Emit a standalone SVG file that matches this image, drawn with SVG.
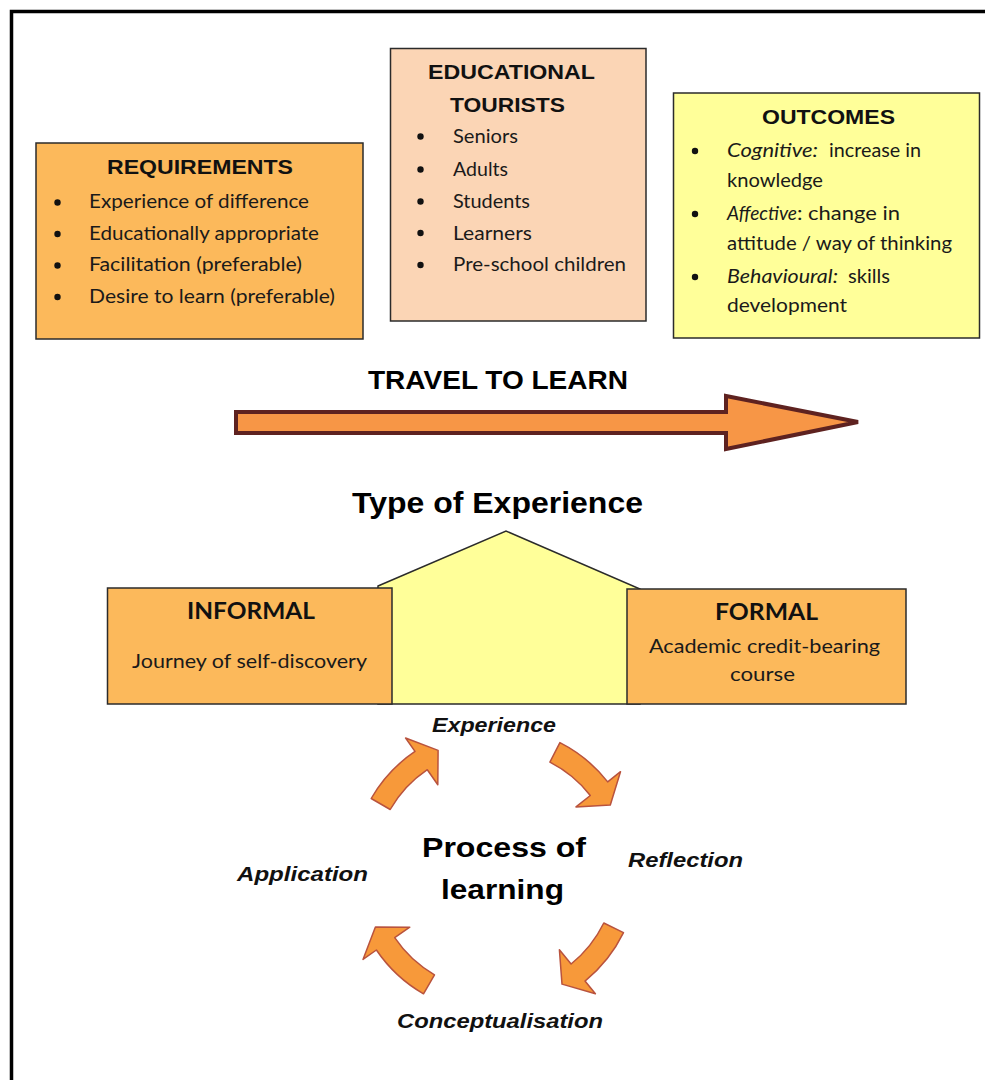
<svg xmlns="http://www.w3.org/2000/svg" width="985" height="1080" viewBox="0 0 985 1080">
<style>
.box{stroke:#2b2b2b;stroke-width:1.5}
.orange{fill:#FCB95B}
.peach{fill:#FBD5B5}
.yellow{fill:#FFFF99}
.title{font-family:"Liberation Sans",Arial,sans-serif;font-weight:bold;fill:#111}
.body{font-family:Lato,"Liberation Sans",sans-serif;font-size:19.5px;fill:#1a1a1a}
.it{font-style:italic}
.cal{font-family:Lato,"Liberation Sans",sans-serif;font-weight:bold;fill:#111}
.lab{font-family:"Liberation Sans",Arial,sans-serif;font-weight:bold;font-style:italic;font-size:20px;fill:#111}
.big{font-family:"Liberation Sans",Arial,sans-serif;font-weight:bold;fill:#000}
.dot{fill:#111}
.cyc{fill:#F7993A;stroke:#B9533E;stroke-width:1.5;stroke-linejoin:round}
</style>
<rect x="0" y="0" width="985" height="1080" fill="#ffffff"/>
<path d="M11.5 1080 V11.5 H985" fill="none" stroke="#000" stroke-width="3.5"/>

<g id="requirements">
<rect class="box orange" x="36" y="143" width="327" height="196"/>
<text class="title" x="107" y="174" font-size="20" textLength="186" lengthAdjust="spacingAndGlyphs">REQUIREMENTS</text>
<circle class="dot" cx="57.5" cy="202.5" r="3.2"/>
<circle class="dot" cx="57.5" cy="234" r="3.2"/>
<circle class="dot" cx="57.5" cy="265.5" r="3.2"/>
<circle class="dot" cx="57.5" cy="297" r="3.2"/>
<text class="body" x="89" y="208" textLength="220" lengthAdjust="spacingAndGlyphs">Experience of difference</text>
<text class="body" x="89" y="239.5" textLength="230" lengthAdjust="spacingAndGlyphs">Educationally appropriate</text>
<text class="body" x="89" y="271" textLength="213" lengthAdjust="spacingAndGlyphs">Facilitation (preferable)</text>
<text class="body" x="89" y="302.5" textLength="246" lengthAdjust="spacingAndGlyphs">Desire to learn (preferable)</text>
</g>

<g id="educational-tourists">
<rect class="box peach" x="390.5" y="48.5" width="255.5" height="272.5"/>
<text class="title" x="428" y="79" font-size="21" textLength="167" lengthAdjust="spacingAndGlyphs">EDUCATIONAL</text>
<text class="title" x="450" y="112" font-size="21" textLength="115" lengthAdjust="spacingAndGlyphs">TOURISTS</text>
<circle class="dot" cx="420.5" cy="136.5" r="3.2"/>
<circle class="dot" cx="420.5" cy="169.5" r="3.2"/>
<circle class="dot" cx="420.5" cy="201.5" r="3.2"/>
<circle class="dot" cx="420.5" cy="233" r="3.2"/>
<circle class="dot" cx="420.5" cy="265" r="3.2"/>
<text class="body" x="453" y="143" textLength="65" lengthAdjust="spacingAndGlyphs">Seniors</text>
<text class="body" x="453" y="176" textLength="55" lengthAdjust="spacingAndGlyphs">Adults</text>
<text class="body" x="453" y="208" textLength="77" lengthAdjust="spacingAndGlyphs">Students</text>
<text class="body" x="453" y="239.5" textLength="79" lengthAdjust="spacingAndGlyphs">Learners</text>
<text class="body" x="453" y="271" textLength="173" lengthAdjust="spacingAndGlyphs">Pre-school children</text>
</g>

<g id="outcomes">
<rect class="box yellow" x="673.5" y="93" width="306" height="245"/>
<text class="title" x="762" y="124" font-size="21" textLength="133" lengthAdjust="spacingAndGlyphs">OUTCOMES</text>
<circle class="dot" cx="695" cy="151" r="3.2"/>
<circle class="dot" cx="695" cy="214" r="3.2"/>
<circle class="dot" cx="695" cy="277" r="3.2"/>
<text class="body" y="157"><tspan class="it" x="727" textLength="91" lengthAdjust="spacingAndGlyphs">Cognitive:</tspan><tspan x="829" textLength="92" lengthAdjust="spacingAndGlyphs">increase in</tspan></text>
<text class="body" x="727" y="187" textLength="96" lengthAdjust="spacingAndGlyphs">knowledge</text>
<text class="body" y="220"><tspan class="it" x="727" textLength="70" lengthAdjust="spacingAndGlyphs">Affective</tspan><tspan x="797" textLength="103" lengthAdjust="spacingAndGlyphs">: change in</tspan></text>
<text class="body" x="727" y="250" textLength="225" lengthAdjust="spacingAndGlyphs">attitude / way of thinking</text>
<text class="body" y="283"><tspan class="it" x="727" textLength="111" lengthAdjust="spacingAndGlyphs">Behavioural:</tspan><tspan x="848" textLength="42" lengthAdjust="spacingAndGlyphs">skills</tspan></text>
<text class="body" x="727" y="312" textLength="120" lengthAdjust="spacingAndGlyphs">development</text>
</g>

<g id="travel-label">
<text class="big" x="368" y="389" font-size="26.5" textLength="260" lengthAdjust="spacingAndGlyphs">TRAVEL TO LEARN</text>
</g>

<g id="type-of-experience">
<text class="big" x="352" y="513" font-size="30" textLength="291" lengthAdjust="spacingAndGlyphs">Type of Experience</text>
<polygon class="box yellow" points="378,586 506,531 640,589 640,704 378,704"/>
</g>

<g id="informal">
<rect class="box orange" x="107.5" y="588" width="284.5" height="116"/>
<text class="cal" x="187" y="619" font-size="22" textLength="128" lengthAdjust="spacingAndGlyphs">INFORMAL</text>
<text class="body" x="132" y="668" textLength="235" lengthAdjust="spacingAndGlyphs">Journey of self-discovery</text>
</g>

<g id="formal">
<rect class="box orange" x="627" y="589" width="279" height="115"/>
<text class="cal" x="715" y="620" font-size="22" textLength="103" lengthAdjust="spacingAndGlyphs">FORMAL</text>
<text class="body" x="649" y="653" textLength="231" lengthAdjust="spacingAndGlyphs">Academic credit-bearing</text>
<text class="body" x="730" y="681" textLength="65" lengthAdjust="spacingAndGlyphs">course</text>
</g>

<g id="process-of-learning">
<text class="big" x="422" y="857" font-size="28" textLength="164" lengthAdjust="spacingAndGlyphs">Process of</text>
<text class="big" x="441" y="899" font-size="28" textLength="123" lengthAdjust="spacingAndGlyphs">learning</text>
</g>

<g id="stage-experience"><text class="lab" x="432" y="732" textLength="124" lengthAdjust="spacingAndGlyphs">Experience</text></g>
<g id="stage-reflection"><text class="lab" x="628" y="867" textLength="115" lengthAdjust="spacingAndGlyphs">Reflection</text></g>
<g id="stage-conceptualisation"><text class="lab" x="397" y="1028" textLength="206" lengthAdjust="spacingAndGlyphs">Conceptualisation</text></g>
<g id="stage-application"><text class="lab" x="237" y="881" textLength="131" lengthAdjust="spacingAndGlyphs">Application</text></g>

<g id="connectors">
<polygon points="236,412 726,412 726,396 858,422 726,449 726,433 236,433" fill="#F79646" stroke="#5E2220" stroke-width="4" stroke-linejoin="miter"/>
<path class="cyc" d="M559.9,742.6 A143,143 0 0 1 607.7,781.9 L620.5,771.7 L610.3,805 L576.0,806.9 L590.3,795.5 A121,121 0 0 0 549.9,762.2 Z"/>
<path class="cyc" d="M623.5,932.7 A143,143 0 0 1 585.0,981.1 L595.4,993.8 L562.0,984.1 L559.4,949.8 L571.1,964.0 A121,121 0 0 0 603.8,923.0 Z"/>
<path class="cyc" d="M423.5,993.8 A143,143 0 0 1 376.4,950.0 L363.0,959.4 L375.4,926.9 L409.8,927.2 L394.7,937.7 A121,121 0 0 0 434.5,974.8 Z"/>
<path class="cyc" d="M371.2,798.5 A143,143 0 0 1 415.0,751.4 L405.6,738.0 L438.1,750.4 L437.8,784.8 L427.3,769.7 A121,121 0 0 0 390.2,809.5 Z"/>
</g>
</svg>
